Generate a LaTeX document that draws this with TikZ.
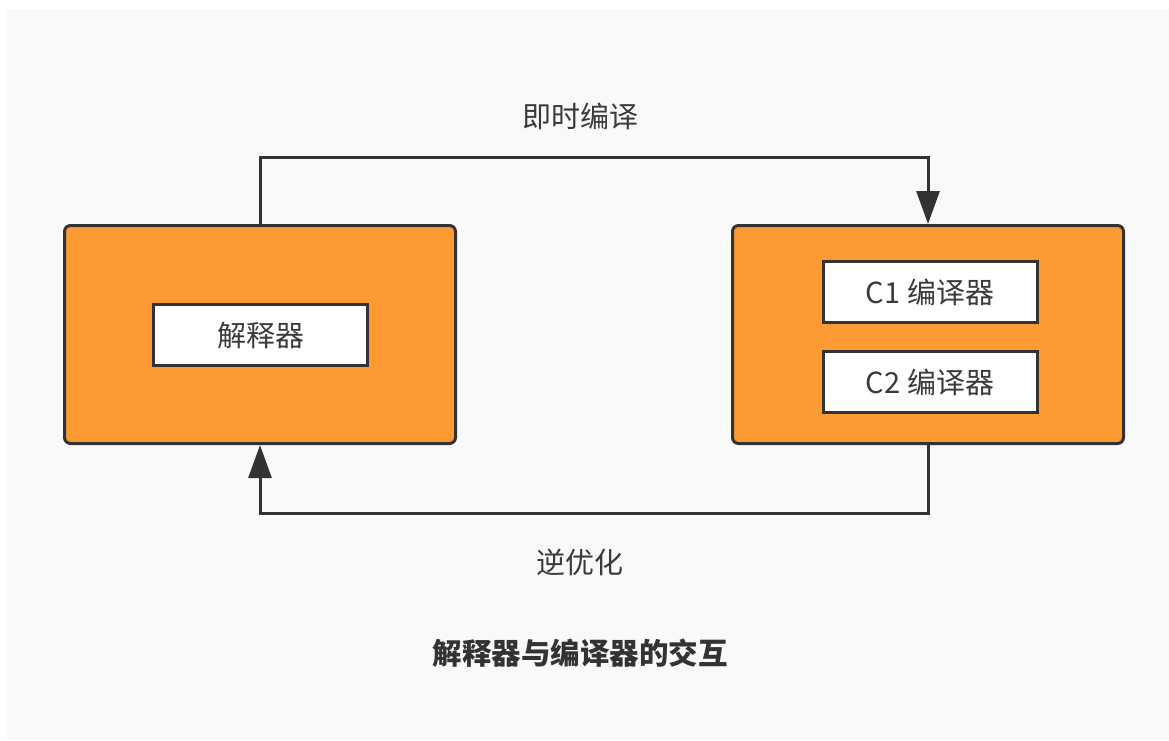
\documentclass[tikz,border=0pt]{standalone}
\usepackage{fontspec}
\setmainfont{Noto Sans CJK SC}
\newfontfamily\cjk{Noto Sans CJK SC}
\usetikzlibrary{arrows.meta}
\definecolor{bgfill}{HTML}{F9F9F9}
\definecolor{orng}{HTML}{FD9A33}
\definecolor{edge}{HTML}{333333}
\definecolor{txt}{HTML}{3A3A3A}
\tikzset{
  outerbox/.style={draw=edge, line width=3pt, fill=orng, rounded corners=6pt,
    minimum width=391pt, minimum height=218pt, inner sep=0pt},
  innerbox/.style={draw=edge, line width=3pt, fill=white,
    minimum width=214pt, minimum height=61pt, inner sep=0pt,
    font=\cjk\fontsize{29}{34}\selectfont, text=txt},
  conn/.style={draw=edge, line width=3pt},
  tip/.style={-{Triangle[width=23pt,length=33pt]}},
  lbl/.style={font=\cjk\fontsize{29}{34}\selectfont, text=txt, inner sep=0pt}
}
\begin{document}
\begin{tikzpicture}[x=1pt,y=-1pt]
\useasboundingbox (0,0) rectangle (1169,740);
\fill[white] (0,0) rectangle (1169,740);
\fill[bgfill] (7,9) rectangle (1169,740);

\node[outerbox] (L) at (260,334.5) {};
\node[outerbox] (R) at (928,334.5) {};
\node[innerbox] (interp) at (260.5,335) {解释器};
\node[innerbox] (c1) at (930,292) {C1 编译器};
\node[innerbox] (c2) at (930,382) {C2 编译器};

\draw[conn, tip] (L.north) -- ++(0,-67) -| (R.north);
\draw[conn, tip] (R.south) -- ++(0,68) -| (L.south);

\node[lbl] (jit) at (580,116) {即时编译};
\node[lbl] (deopt) at (580,562) {逆优化};
\node[lbl, font=\cjk\bfseries\fontsize{29.5}{34}\selectfont, text=edge] (title) at (580,653) {解释器与编译器的交互};
\end{tikzpicture}
\end{document}
